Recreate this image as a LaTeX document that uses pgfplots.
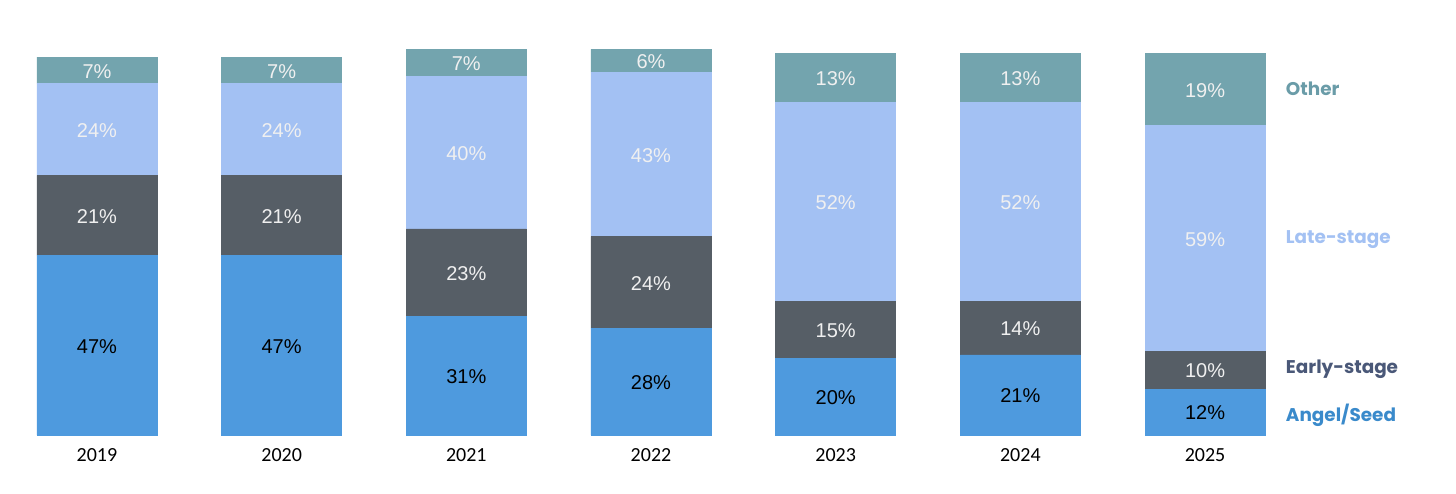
\documentclass[border=0pt]{standalone}
\usepackage{pgfplots}
\pgfplotsset{compat=1.18}
\usepackage{fontspec}
\setmainfont{Liberation Sans}
\newfontfamily\yearfont{Carlito}
\newfontfamily\legfont{Poppins}

\definecolor{cAngel}{HTML}{4E9ADE}
\definecolor{cEarly}{HTML}{565E66}
\definecolor{cLate}{HTML}{A3C1F3}
\definecolor{cOther}{HTML}{73A4AE}
\definecolor{tOther}{HTML}{6A9CA8}
\definecolor{tLate}{HTML}{A3C1F3}
\definecolor{tEarly}{HTML}{4A5878}
\definecolor{tAngel}{HTML}{3A8ACB}

% 1 px of the reference = 0.5pt
\pgfplotsset{
  base/.style={
    width=728pt, height=217.5pt, scale only axis,
    xmin=-0.525, xmax=7.359, ymin=0, ymax=113.87,
    enlargelimits=false, clip=false,
    axis line style={draw=none},
    major tick length=0pt,
    ytick=\empty,
  }
}
\tikzset{leg/.style={anchor=west, font=\legfont\bfseries\fontsize{9.2}{10}\selectfont}}

\begin{document}
\begin{tikzpicture}
\begin{axis}[base, name=main,
    ybar stacked, bar width=60pt,
    xtick={0,...,6},
    xticklabels={2019,2020,2021,2022,2023,2024,2025},
    xticklabel style={anchor=center, yshift=-10pt, font=\yearfont\fontsize{10}{11}\selectfont},
  ]
  \addplot[fill=cAngel, draw=cAngel] coordinates {(0,47) (1,47) (2,31) (3,28) (4,20) (5,21) (6,12)};
  \addplot[fill=cEarly, draw=cEarly] coordinates {(0,21) (1,21) (2,23) (3,24) (4,15) (5,14) (6,10)};
  \addplot[fill=cLate, draw=cLate] coordinates {(0,24) (1,24) (2,40) (3,43) (4,52) (5,52) (6,59)};
  \addplot[fill=cOther, draw=cOther] coordinates {(0,7) (1,7) (2,7) (3,6) (4,13) (5,13) (6,19)};
  % series names beside the last bar
  \node[leg, text=tOther] at (axis cs:6.40,90.6) {Other};
  \node[leg, text=tLate] at (axis cs:6.40,51.3) {Late-stage};
  \node[leg, text=tEarly] at (axis cs:6.40,17.3) {Early-stage};
  \node[leg, text=tAngel] at (axis cs:6.40,5.2) {Angel/Seed};
\end{axis}
% share labels, at the middle of each segment
\begin{axis}[base, xtick=\empty,
    nodes near coords, point meta=explicit symbolic,
    nodes near coords style={anchor=center, font=\fontsize{10}{11}\selectfont},
  ]
  \addplot[draw=none, mark=none, nodes near coords style={text=black}] coordinates {
    (0,23.3)[47\%] (1,23.3)[47\%] (2,15.3)[31\%] (3,13.8)[28\%] (4,9.8)[20\%] (5,10.3)[21\%] (6,5.8)[12\%]};
  \addplot[draw=none, mark=none, nodes near coords style={text=white!94!black}] coordinates {
    (0,57.3)[21\%] (1,57.3)[21\%] (2,42.3)[23\%] (3,39.8)[24\%] (4,27.3)[15\%] (5,27.8)[14\%] (6,16.8)[10\%]
    (0,79.8)[24\%] (1,79.8)[24\%] (2,73.8)[40\%] (3,73.3)[43\%] (4,60.8)[52\%] (5,60.8)[52\%] (6,51.3)[59\%]
    (0,95.3)[7\%] (1,95.3)[7\%] (2,97.3)[7\%] (3,97.8)[6\%] (4,93.3)[13\%] (5,93.3)[13\%] (6,90.3)[19\%]};
\end{axis}
% page size of the reference
\path ([yshift=-29pt]main.south west) rectangle (main.north east);
\end{tikzpicture}
\end{document}
